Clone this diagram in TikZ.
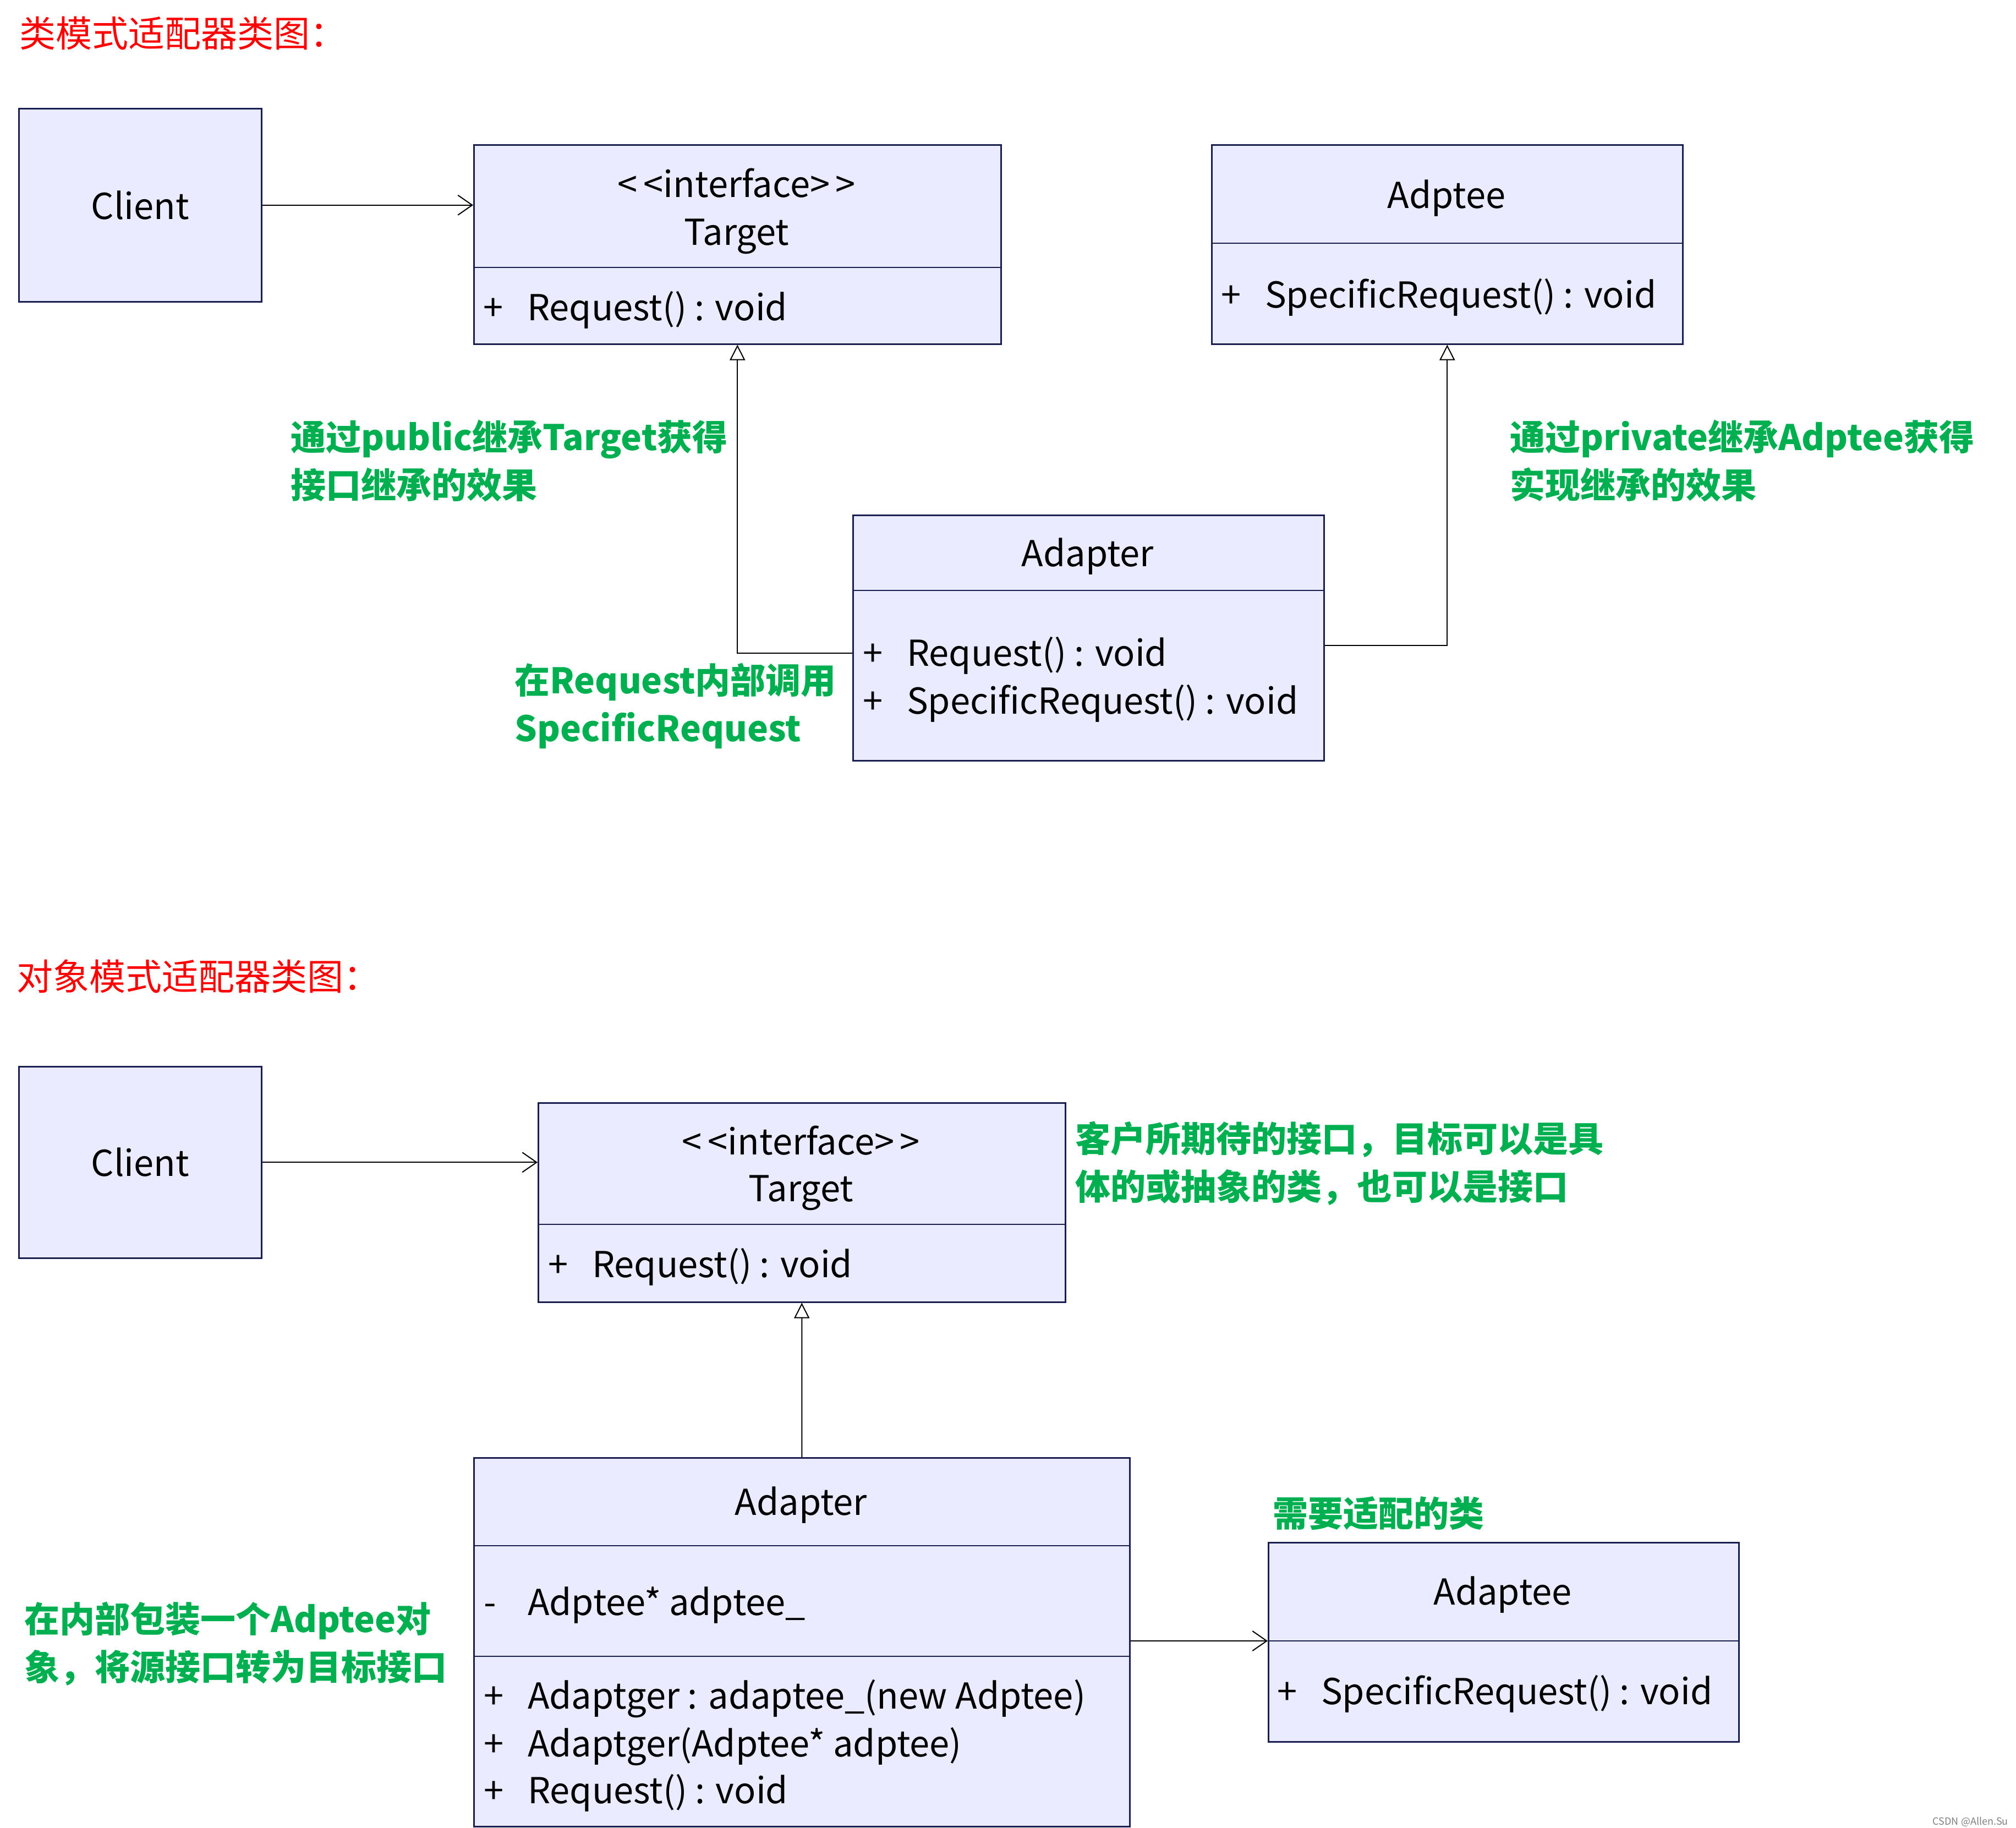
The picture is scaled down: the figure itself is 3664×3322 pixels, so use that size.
\documentclass[tikz,border=0pt]{standalone}
\usepackage{fontspec}
\setmainfont{Noto Sans CJK SC}
\usetikzlibrary{arrows.meta}
\definecolor{boxfill}{RGB}{234,235,254}
\definecolor{boxline}{RGB}{25,30,80}
\definecolor{ngreen}{RGB}{0,176,80}
\definecolor{nred}{RGB}{255,0,0}
\begin{document}
\begin{tikzpicture}[x=1bp,y=-1bp,
  umlbox/.style={draw=boxline, fill=boxfill, line width=2.5bp, inner sep=0, anchor=north west},
  divline/.style={draw=boxline, line width=2.5bp},
  ctext/.style={font=\fontsize{65bp}{78bp}\selectfont, inner sep=0, anchor=center},
  mtext/.style={font=\fontsize{65bp}{78bp}\selectfont, inner sep=0, anchor=west},
  note/.style={font=\bfseries\fontsize{64bp}{87bp}\selectfont, text=ngreen, align=left, inner sep=0, anchor=west},
  title/.style={font=\fontsize{66bp}{78bp}\selectfont, text=nred, inner sep=0, anchor=west},
  assoc/.style={draw=black, line width=2bp, -{Straight Barb[length=26bp,width=36bp,line width=2bp]}},
  inherit/.style={draw=black, line width=2bp, -{Triangle[open,length=28bp,width=28bp,line width=2bp,fill=white]}}
]
\useasboundingbox (0,0) rectangle (3664,3322);
\newcommand{\pl}[1]{\makebox[80bp][l]{#1}}
\newcommand{\stereo}{{<}\,{<}interface{>}\,{>}}

% ---------- top section ----------
\node[title] (t1) at (35,60) {类模式适配器类图：};

\node[umlbox, minimum width=441bp, minimum height=351bp] (client1) at (33,196) {};
\node[ctext] (client1t) at (client1.center) {Client};

\node[umlbox, minimum width=958bp, minimum height=362bp] (target1) at (860,262) {};
\coordinate (target1d) at (860,486);
\draw[divline] (target1d) -- (target1d -| target1.east);
\node[ctext] (target1s) at (1339,333) {\stereo};
\node[ctext] (target1n) at (1339,430) {Target};
\node[mtext] (target1r) at (878,563) {\pl{+}Request() : void};

\node[umlbox, minimum width=856bp, minimum height=362bp] (adptee1) at (2201,262) {};
\coordinate (adptee1d) at (2201,442);
\draw[divline] (adptee1d) -- (adptee1d -| adptee1.east);
\node[ctext] (adptee1n) at (2629,360) {Adptee};
\node[mtext] (adptee1r) at (2219,540) {\pl{+}SpecificRequest() : void};

\node[umlbox, minimum width=856bp, minimum height=446bp] (adapter1) at (1549,935) {};
\coordinate (adapter1d) at (1549,1073);
\draw[divline] (adapter1d) -- (adapter1d -| adapter1.east);
\node[ctext] (adapter1n) at (1977,1011) {Adapter};
\node[mtext] (adapter1r1) at (1568,1191) {\pl{+}Request() : void};
\node[mtext] (adapter1r2) at (1568,1278) {\pl{+}SpecificRequest() : void};

\draw[assoc] (client1.east) -- (client1.east -| target1.west);
\draw[inherit] ([yshift=4bp]adapter1r1 -| adapter1.west) -| (target1.south);
\draw[inherit] ([yshift=18bp]adapter1r1 -| adapter1.east) -| (adptee1.south);

\node[note] (n1) at (528,837) {通过public继承Target获得\\接口继承的效果};
\node[note] (n2) at (2744,837) {通过private继承Adptee获得\\实现继承的效果};
\node[note] (n3) at (935,1283) {在Request内部调用\\SpecificRequest};

% ---------- bottom section ----------
\node[title] (t2) at (30,1774) {对象模式适配器类图：};

\node[umlbox, minimum width=441bp, minimum height=348bp] (client2) at (33,1937) {};
\node[ctext] (client2t) at (client2.center) {Client};

\node[umlbox, minimum width=958bp, minimum height=362bp] (target2) at (977,2003) {};
\coordinate (target2d) at (977,2225);
\draw[divline] (target2d) -- (target2d -| target2.east);
\node[ctext] (target2s) at (1456,2073) {\stereo};
\node[ctext] (target2n) at (1456,2168) {Target};
\node[mtext] (target2r) at (996,2302) {\pl{+}Request() : void};

\node[umlbox, minimum width=1192bp, minimum height=670bp] (adapter2) at (860,2648) {};
\coordinate (adapter2d1) at (860,2809);
\coordinate (adapter2d2) at (860,3010);
\draw[divline] (adapter2d1) -- (adapter2d1 -| adapter2.east);
\draw[divline] (adapter2d2) -- (adapter2d2 -| adapter2.east);
\node[ctext] (adapter2n) at (1456,2735) {Adapter};
\node[mtext] (adapter2a) at (879,2917) {\pl{-}Adptee* adptee\_};
\node[mtext] (adapter2r1) at (879,3087) {\pl{+}Adaptger : adaptee\_(new Adptee)};
\node[mtext] (adapter2r2) at (879,3174) {\pl{+}Adaptger(Adptee* adptee)};
\node[mtext] (adapter2r3) at (879,3258) {\pl{+}Request() : void};

\node[umlbox, minimum width=855bp, minimum height=362bp] (adaptee2) at (2304,2802) {};
\coordinate (adaptee2d) at (2304,2982);
\draw[divline] (adaptee2d) -- (adaptee2d -| adaptee2.east);
\node[ctext] (adaptee2n) at (2731,2898) {Adaptee};
\node[mtext] (adaptee2r) at (2321,3078) {\pl{+}SpecificRequest() : void};

\draw[assoc] (client2.east) -- (client2.east -| target2.west);
\draw[inherit] (adapter2.north) -- (target2.south);
\draw[assoc] (adaptee2d -| adapter2.east) -- (adaptee2d);

\node[note] (n4) at (1954,2114) {客户所期待的接口，目标可以是具\\体的或抽象的类，也可以是接口};
\node[note] (n5) at (2313,2750) {需要适配的类};
\node[note] (n6) at (44,2987) {在内部包装一个Adptee对\\象，将源接口转为目标接口};

\node[font=\fontsize{18bp}{20bp}\selectfont, text=gray, inner sep=0, anchor=east] (wm) at (3650,3311) {CSDN @Allen.Su};
\end{tikzpicture}
\end{document}
